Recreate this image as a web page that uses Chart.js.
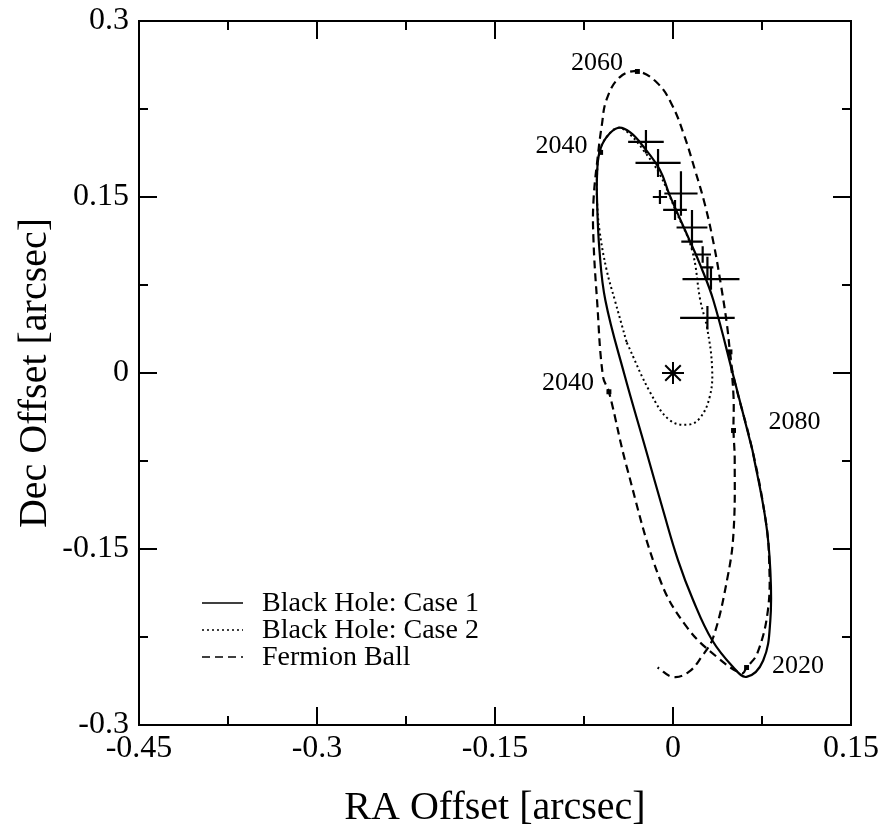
<!DOCTYPE html>
<html><head><meta charset="utf-8">
<script src="https://cdn.jsdelivr.net/npm/chart.js@4/dist/chart.umd.min.js"></script>
<style>html,body{margin:0;padding:0;background:#fff}#wrap{width:882px;height:832px}</style>
</head><body><div id="wrap"><canvas id="c" width="882" height="832"></canvas></div>
<script>
const seriesNames = ['Black Hole: Case 1', 'Black Hole: Case 2', 'Fermion Ball'];
const xTickLabels = ['-0.45', '-0.3', '-0.15', '0', '0.15'];
const yTickLabels = ['-0.3', '-0.15', '0', '0.15', '0.3'];
const xMinorTicks = [-0.375, -0.225, -0.075, 0.075];
const yMinorTicks = [-0.225, -0.075, 0.075, 0.225];

// Black Hole: Case 1 (solid)
const bh1X = [0.067, 0.051, 0.034, 0.023, 0.014, -0.003, -0.011, -0.025, -0.036, -0.046, -0.056, -0.062, -0.064, -0.064, -0.062, -0.057, -0.0413, -0.0228, -0.0084, 0.0042, 0.0169, 0.0329, 0.0506, 0.062, 0.076, 0.082, 0.082, 0.078, 0.067];
const bh1Y = [-0.066, -0.003, 0.062, 0.092, 0.113, 0.152, 0.173, 0.193, 0.205, 0.209, 0.201, 0.188, 0.169, 0.147, 0.105, 0.062, 0.000, -0.0656, -0.1168, -0.1594, -0.1935, -0.2276, -0.2506, -0.259, -0.245, -0.211, -0.168, -0.125, -0.066];

// Black Hole: Case 2 (dotted)
const bh2X = [-0.039, -0.019, -0.003, 0.013, 0.023, 0.031, 0.033, 0.029, 0.023, 0.016, 0.002, -0.011, -0.025, -0.036, -0.046, -0.056, -0.062, -0.064, -0.064, -0.062, -0.056, -0.049, -0.039];
const bh2Y = [0.026, -0.017, -0.040, -0.044, -0.038, -0.020, 0.003, 0.037, 0.062, 0.105, 0.139, 0.169, 0.190, 0.203, 0.209, 0.201, 0.188, 0.169, 0.147, 0.122, 0.088, 0.062, 0.026];

// Fermion Ball (dashed)
const fbX = [0.048, 0.051, 0.067, 0.078, 0.081, 0.080, 0.071, 0.062, 0.058, 0.037, 0.012, -0.011, -0.039, -0.054, -0.059, -0.064, -0.067, -0.067, -0.063, -0.060, -0.056, -0.045, -0.030, -0.013, -0.0008, 0.0093, 0.0185, 0.027, 0.0345, 0.0404, 0.0455, 0.048, 0.051, 0.051, 0.052, 0.051, 0.046, 0.034, 0.024, 0.013, 0.000, -0.013];
const fbY = [0.018, -0.003, -0.066, -0.125, -0.159, -0.202, -0.239, -0.251, -0.256, -0.242, -0.217, -0.176, -0.080, -0.016, -0.003, 0.062, 0.113, 0.147, 0.188, 0.211, 0.233, 0.252, 0.257, 0.247, 0.2285, 0.2029, 0.1731, 0.1432, 0.1091, 0.075, 0.0409, 0.017, -0.020, -0.049, -0.074, -0.136, -0.174, -0.225, -0.242, -0.255, -0.259, -0.251];

// Year markers on the Fermion Ball track
const yearMarkX = [0.062, -0.054, -0.061, -0.030, 0.051, 0.048];
const yearMarkY = [-0.251, -0.016, 0.188, 0.257, -0.049, 0.018];

// Year labels (text centre, data units)
const yearText = ['2020', '2040', '2040', '2060', '2080'];
const yearTextX = [0.1053, -0.0885, -0.094, -0.064, 0.1024];
const yearTextY = [-0.2498, -0.0085, 0.1935, 0.264, -0.0418];

// Observed positions with error bars
const obsX = [-0.0228, -0.0126, -0.011, 0.0067, 0.0017, 0.016, 0.016, 0.025, 0.029, 0.032, 0.029];
const obsY = [0.197, 0.179, 0.150, 0.153, 0.139, 0.124, 0.112, 0.101, 0.090, 0.080, 0.047];
const obsXErr = [0.015, 0.019, 0.006, 0.014, 0.010, 0.013, 0.009, 0.007, 0.005, 0.024, 0.023];
const obsYErr = [0.010, 0.012, 0.006, 0.019, 0.0085, 0.015, 0.006, 0.007, 0.009, 0.009, 0.010];

// Central mass
const centreX = [0];
const centreY = [0];

const FONT = "'Liberation Serif', 'Times New Roman', serif";
const pts = (xs, ys) => xs.map((x, i) => ({x: x, y: ys[i]}));
const errSegs = [];
obsX.forEach((x, i) => {
  const y = obsY[i];
  errSegs.push({x: x - obsXErr[i], y: y}, {x: x + obsXErr[i], y: y}, {x: null, y: null});
  errSegs.push({x: x, y: y - obsYErr[i]}, {x: x, y: y + obsYErr[i]}, {x: null, y: null});
});

const framePlugin = {
  id: 'frame',
  afterDraw(chart) {
    const {ctx, chartArea: a, scales: {x, y}} = chart;
    ctx.save();
    ctx.strokeStyle = '#000';
    ctx.lineWidth = 2;
    ctx.strokeRect(a.left, a.top, a.right - a.left, a.bottom - a.top);
    const major = 18, minor = 9;
    ctx.beginPath();
    const xt = (v, L) => { const p = x.getPixelForValue(v); ctx.moveTo(p, a.bottom); ctx.lineTo(p, a.bottom - L); ctx.moveTo(p, a.top); ctx.lineTo(p, a.top + L); };
    const yt = (v, L) => { const p = y.getPixelForValue(v); ctx.moveTo(a.left, p); ctx.lineTo(a.left + L, p); ctx.moveTo(a.right, p); ctx.lineTo(a.right - L, p); };
    x.ticks.forEach(t => xt(t.value, major));
    xMinorTicks.forEach(v => xt(v, minor));
    y.ticks.forEach(t => yt(t.value, major));
    yMinorTicks.forEach(v => yt(v, minor));
    ctx.stroke();
    ctx.restore();
  }
};

const labelPlugin = {
  id: 'yearLabels',
  afterDatasetsDraw(chart) {
    const {ctx, scales: {x, y}} = chart;
    ctx.save();
    ctx.fillStyle = '#000';
    ctx.font = '26px ' + FONT;
    ctx.textAlign = 'center';
    ctx.textBaseline = 'middle';
    yearText.forEach((t, i) => ctx.fillText(t, x.getPixelForValue(yearTextX[i]), y.getPixelForValue(yearTextY[i])));
    ctx.restore();
  }
};

const legendPlugin = {
  id: 'innerLegend',
  afterDraw(chart) {
    const {ctx} = chart;
    const dashes = [[], [2, 3], [8, 5]];
    const rows = [603, 630, 657];
    ctx.save();
    ctx.strokeStyle = '#000';
    ctx.fillStyle = '#000';
    ctx.lineWidth = 1.6;
    ctx.font = '28px ' + FONT;
    ctx.textBaseline = 'middle';
    seriesNames.forEach((n, i) => {
      ctx.setLineDash(dashes[i]);
      ctx.beginPath();
      ctx.moveTo(202, rows[i]);
      ctx.lineTo(243, rows[i]);
      ctx.stroke();
      ctx.setLineDash([]);
      ctx.fillText(n, 262, rows[i] + 1);
    });
    ctx.restore();
  }
};

const fmt = (labels) => (v) => { const l = labels.find(s => Math.abs(parseFloat(s) - v) < 1e-6); return l === undefined ? '' : l; };

new Chart(document.getElementById('c'), {
  type: 'scatter',
  data: {
    datasets: [
      {label: 'err', data: errSegs, showLine: true, spanGaps: false, borderColor: '#000', borderWidth: 2.2, pointRadius: 0, tension: 0},
      {label: seriesNames[0], data: pts(bh1X, bh1Y), showLine: true, borderColor: '#000', borderWidth: 2.2, pointRadius: 0, tension: 0.4},
      {label: seriesNames[1], data: pts(bh2X, bh2Y), showLine: true, borderColor: '#000', borderWidth: 2, borderDash: [2, 3], pointRadius: 0, tension: 0.4},
      {label: seriesNames[2], data: pts(fbX, fbY), showLine: true, borderColor: '#000', borderWidth: 2.2, borderDash: [8, 5], pointRadius: 0, tension: 0.4},
      {label: 'years', data: pts(yearMarkX, yearMarkY), showLine: false, pointStyle: 'rect', pointRadius: 3.5, backgroundColor: '#000', borderColor: '#000', borderWidth: 0},
      {label: 'centre', data: pts(centreX, centreY), showLine: false, pointStyle: 'star', pointRadius: 11, borderColor: '#000', borderWidth: 2, backgroundColor: '#000'}
    ]
  },
  options: {
    responsive: false,
    animation: false,
    devicePixelRatio: 1,
    layout: {padding: {top: 21, right: 31, left: 0, bottom: 0}},
    plugins: {legend: {display: false}, tooltip: {enabled: false}},
    scales: {
      x: {
        type: 'linear', min: -0.45, max: 0.15,
        ticks: {stepSize: 0.15, callback: fmt(xTickLabels), font: {family: FONT, size: 32}, color: '#000', padding: 4, maxRotation: 0, autoSkip: false},
        grid: {display: false, drawTicks: false},
        border: {display: false},
        title: {display: true, text: 'RA Offset [arcsec]', font: {family: FONT, size: 40}, color: '#000', padding: 0},
        afterFit(s) { s.height = 107; s.paddingLeft = 0; s.paddingRight = 0; }
      },
      y: {
        type: 'linear', min: -0.3, max: 0.3,
        ticks: {stepSize: 0.15, callback: fmt(yTickLabels), font: {family: FONT, size: 32}, color: '#000', padding: 10, autoSkip: false},
        grid: {display: false, drawTicks: false},
        border: {display: false},
        title: {display: true, text: 'Dec Offset [arcsec]', font: {family: FONT, size: 40}, color: '#000', padding: {top: 11, bottom: 0}},
        afterFit(s) { s.width = 139; s.paddingTop = 0; s.paddingBottom = 0; }
      }
    }
  },
  plugins: [framePlugin, labelPlugin, legendPlugin]
});
</script>
</body></html>
